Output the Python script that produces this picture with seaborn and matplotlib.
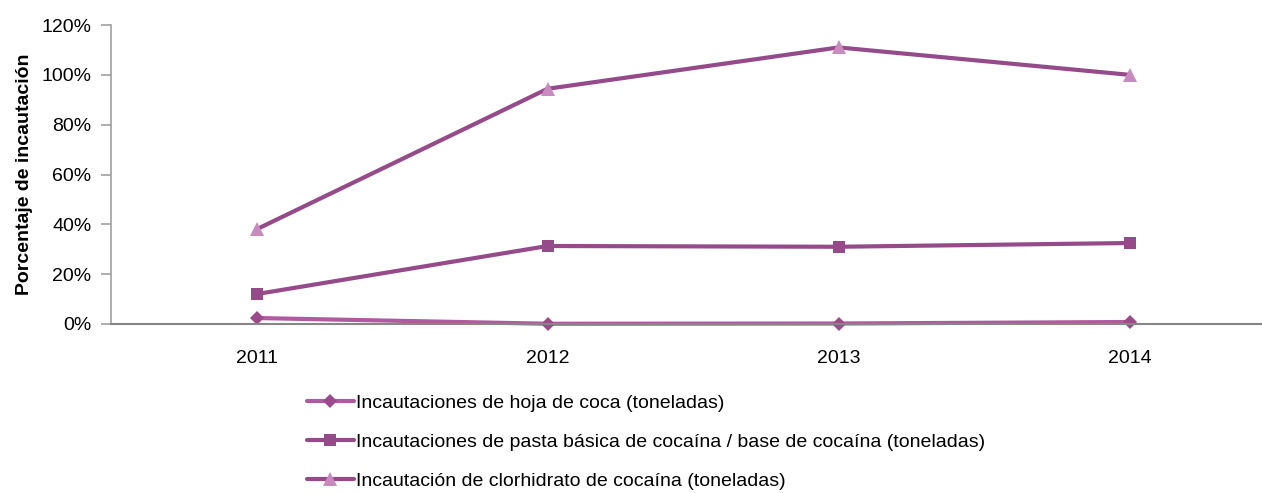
import matplotlib
matplotlib.use("Agg")
import matplotlib.pyplot as plt
import seaborn as sns
import pandas as pd
from matplotlib.ticker import FixedLocator, PercentFormatter
from matplotlib.lines import Line2D

years = ["2011", "2012", "2013", "2014"]
hoja_coca = [2.4, 0.1, 0.2, 0.8]
pasta_basica = [12.0, 31.3, 31.0, 32.5]
clorhidrato = [38.0, 94.4, 111.0, 100.0]
series_names = [
    "Incautaciones de hoja de coca (toneladas)",
    "Incautaciones de pasta básica de cocaína / base de cocaína (toneladas)",
    "Incautación de clorhidrato de cocaína (toneladas)",
]
y_ticks = [0, 20, 40, 60, 80, 100, 120]

sns.set_theme(style="white")
plt.rcParams["font.family"] = ["Liberation Sans", "DejaVu Sans"]
plt.rcParams["text.color"] = "black"
plt.rcParams["axes.labelcolor"] = "black"
plt.rcParams["xtick.labelcolor"] = "black"
plt.rcParams["ytick.labelcolor"] = "black"
fs = 14

fig = plt.figure(figsize=(12.62, 4.93), dpi=100)
ax = fig.add_axes([111 / 1262, (493 - 324) / 493, (1262 - 111) / 1262, (324 - 25) / 493])

styles = [
    dict(line="#b05aa0", marker="D", mfc="#9c4a8c", ms=7.5),
    dict(line="#954b8a", marker="s", mfc="#954b8a", ms=9),
    dict(line="#954b8a", marker="^", mfc="#c98bbf", ms=10),
]
data = [hoja_coca, pasta_basica, clorhidrato]
handles = []
for name, vals, st in zip(series_names, data, styles):
    df = pd.DataFrame({"year": years, "value": vals})
    sns.lineplot(data=df, x="year", y="value", ax=ax, color=st["line"], linewidth=3,
                 marker=st["marker"], markersize=st["ms"], markerfacecolor=st["mfc"],
                 markeredgecolor=st["mfc"], markeredgewidth=0)
    handles.append(Line2D([0], [0], color=st["line"], linewidth=3, marker=st["marker"],
                          markersize=st["ms"], markerfacecolor=st["mfc"],
                          markeredgecolor=st["mfc"], markeredgewidth=0))

ax.set_xlim(-0.5, 3.455)
ax.set_ylim(0, 120)
ax.yaxis.set_major_locator(FixedLocator(y_ticks))
ax.yaxis.set_major_formatter(PercentFormatter(decimals=0))
ax.set_xlabel("")
ax.set_ylabel("Porcentaje de incautación", fontsize=fs, fontweight="bold", labelpad=6, color="black")
ax.xaxis.set_minor_locator(FixedLocator([-0.5, 0.5, 1.5, 2.5]))
ax.tick_params(axis="x", which="major", length=0, labelsize=fs, pad=19, labelcolor="black")
ax.tick_params(axis="x", which="minor", length=7, width=1.2, color="#a0a0a0", direction="out")
ax.tick_params(axis="y", which="major", length=7, width=1.2, color="#a0a0a0", labelsize=fs,
               direction="out", pad=7, labelcolor="black")
ax.tick_params(bottom=True, left=True)
for s in ["top", "right"]:
    ax.spines[s].set_visible(False)
ax.spines["left"].set_color("#a0a0a0")
ax.spines["bottom"].set_color("#868686")
ax.spines["left"].set_linewidth(1.2)
ax.spines["bottom"].set_linewidth(1.5)
for ln in ax.lines:
    ln.set_clip_on(False)

leg = fig.legend(handles, series_names, loc="upper left", bbox_to_anchor=(307 / 1262, 1 - 394 / 493),
                 frameon=False, fontsize=fs, handlelength=2.4, handletextpad=0.1,
                 labelspacing=1.1, borderaxespad=0, borderpad=0)
for t in leg.get_texts():
    t.set_color("black")

fig.savefig("out.png", dpi=100)
